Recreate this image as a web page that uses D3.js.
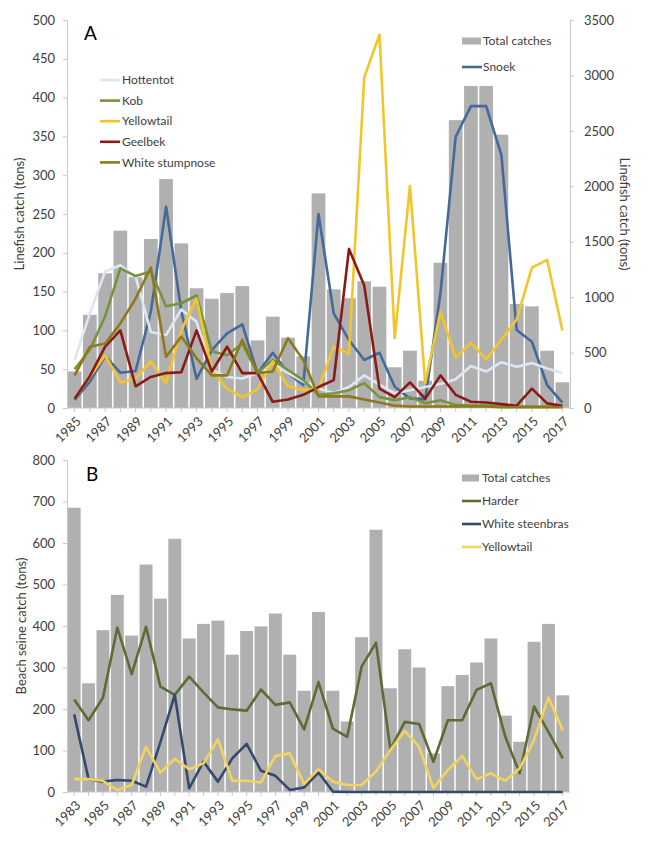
<!DOCTYPE html>
<html>
<head>
<meta charset="utf-8">
<script src="https://cdn.jsdelivr.net/npm/d3@7"></script>
<style>
  body { margin: 0; background: #fff; }
  text { font-family: Lato, "Open Sans", sans-serif; fill: #404040; }
</style>
</head>
<body>
<svg id="chart" width="648" height="850"></svg>
<script>
// Panel A - linefish (1985-2017)
var yearsA = [1985, 1986, 1987, 1988, 1989, 1990, 1991, 1992, 1993, 1994, 1995, 1996, 1997, 1998, 1999, 2000,
              2001, 2002, 2003, 2004, 2005, 2006, 2007, 2008, 2009, 2010, 2011, 2012, 2013, 2014, 2015, 2016, 2017];
// right axis
var totalA = [330, 840, 1215, 1600, 1180, 1525, 2065, 1485, 1080, 985, 1037, 1100, 610, 824, 634, 466,
              1936, 1070, 990, 1143, 1094, 367, 517, 246, 1310, 2597, 2905, 2905, 2466, 938, 917, 517, 232];
var snoek = [72, 237, 469, 318, 334, 868, 1815, 875, 262, 523, 673, 754, 313, 498, 313, 207,
             1750, 854, 613, 433, 498, 192, 87, 78, 1035, 2447, 2723, 2723, 2282, 704, 598, 207, 48];
// left axis
var hottentot = [62, 122, 176, 184, 169, 98, 94, 127, 111, 49, 40, 38, 45, 58, 45, 34,
                 25, 19, 27, 42, 30, 19, 23, 27, 31, 37, 54, 47, 59, 53, 58, 51, 45];
var kob = [50, 75, 118, 180, 170, 176, 131, 135, 145, 73, 68, 83, 45, 62, 49, 36,
           17, 19, 23, 32, 14, 10, 14, 6, 10, 4, 3, 3, 2, 2, 2, 2, 2];
var yellowtailA = [12, 40, 68, 33, 38, 60, 32, 100, 141, 49, 25, 14, 24, 60, 28, 23,
                   25, 79, 70, 426, 481, 90, 286, 32, 124, 65, 84, 63, 88, 114, 181, 191, 100];
var geelbek = [12, 41, 79, 100, 28, 40, 45, 46, 100, 47, 79, 45, 45, 8, 11, 17,
               27, 36, 205, 158, 25, 14, 33, 12, 42, 17, 8, 7, 5, 3, 25, 6, 3];
var stumpnose = [42, 79, 83, 109, 141, 181, 66, 92, 64, 42, 42, 88, 45, 47, 90, 62,
                 15, 15, 15, 11, 7, 3, 2, 2, 2, 2, 2, 2, 1, 1, 1, 1, 1];

// Panel B - beach seine (1983-2017)
var yearsB = [1983, 1984, 1985, 1986, 1987, 1988, 1989, 1990, 1991, 1992, 1993, 1994, 1995, 1996, 1997, 1998,
              1999, 2000, 2001, 2002, 2003, 2004, 2005, 2006, 2007, 2008, 2009, 2010, 2011, 2012, 2013, 2014,
              2015, 2016, 2017];
var totalB = [685, 262, 390, 475, 377, 548, 466, 610, 370, 405, 413, 331, 388, 399, 430, 331,
              244, 434, 244, 170, 373, 632, 250, 344, 300, 93, 255, 282, 312, 370, 184, 121,
              362, 405, 233];
var harder = [223, 173, 227, 396, 284, 398, 254, 234, 278, 240, 204, 199, 196, 247, 210, 216,
              151, 265, 153, 133, 302, 360, 103, 169, 164, 73, 173, 173, 246, 262, 133, 45,
              206, 145, 81];
var steenbras = [187, 31, 25, 29, 27, 13, 120, 234, 9, 73, 25, 81, 116, 51, 39, 5,
                 11, 47, 1, 0, 0, 0, 0, 0, 0, 0, 0, 0, 0, 0, 0, 0,
                 0, 0, 0];
var yellowtailB = [31, 31, 27, 5, 17, 109, 47, 80, 55, 69, 127, 27, 27, 23, 87, 93,
                   19, 55, 25, 17, 17, 49, 101, 147, 109, 9, 53, 87, 31, 45, 27, 57,
                   125, 228, 148];

var ticksLeftA = [0, 50, 100, 150, 200, 250, 300, 350, 400, 450, 500];
var ticksRightA = [0, 500, 1000, 1500, 2000, 2500, 3000, 3500];
var ticksLeftB = [0, 100, 200, 300, 400, 500, 600, 700, 800];

var barColor = "#b0b0b0",
    axisColor = "#c8c8c8";

var svg = d3.select("#chart");

// Panel A
var plotA = { left: 67, right: 570, top: 20, bottom: 408 };

var xA = d3.scaleBand()
    .domain(yearsA)
    .range([plotA.left, plotA.right])
    .paddingInner(0.1)
    .paddingOuter(0.05);

var yLeftA = d3.scaleLinear().domain([0, 500]).range([plotA.bottom, plotA.top]);
var yRightA = d3.scaleLinear().domain([0, 3500]).range([plotA.bottom, plotA.top]);

var gA = svg.append("g");

gA.selectAll("rect.bar")
  .data(totalA)
  .enter().append("rect")
    .attr("class", "bar")
    .attr("x", function(d, i) { return xA(yearsA[i]); })
    .attr("width", xA.bandwidth())
    .attr("y", function(d) { return yRightA(d); })
    .attr("height", function(d) { return plotA.bottom - yRightA(d); })
    .style("fill", barColor);

function drawAxes(g, plot, x, years, yLeft, ticksLeft, yRight, ticksRight) {
  var left = g.append("g")
      .attr("transform", "translate(" + plot.left + ",0)")
      .call(d3.axisLeft(yLeft).tickValues(ticksLeft).tickFormat(d3.format("d")).tickSize(4).tickPadding(8));
  left.select(".domain").style("stroke", axisColor);
  left.selectAll(".tick line").style("stroke", axisColor);
  left.selectAll(".tick text").style("font-size", "13px").style("fill", "#404040")
      .style("font-family", "Lato, sans-serif");

  if (yRight) {
    var right = g.append("g")
        .attr("transform", "translate(" + plot.right + ",0)")
        .call(d3.axisRight(yRight).tickValues(ticksRight).tickFormat(d3.format("d")).tickSize(4).tickPadding(10));
    right.select(".domain").style("stroke", axisColor);
    right.selectAll(".tick line").style("stroke", axisColor);
    right.selectAll(".tick text").style("font-size", "13px").style("fill", "#404040")
        .style("font-family", "Lato, sans-serif");
  }

  // category axis
  g.append("line")
      .attr("x1", plot.left).attr("x2", plot.right)
      .attr("y1", plot.bottom).attr("y2", plot.bottom)
      .style("stroke", axisColor);

  g.selectAll("line.xtick")
    .data(years)
    .enter().append("line")
      .attr("class", "xtick")
      .attr("x1", function(d) { return x(d) + x.bandwidth() / 2; })
      .attr("x2", function(d) { return x(d) + x.bandwidth() / 2; })
      .attr("y1", plot.bottom)
      .attr("y2", plot.bottom + 4)
      .style("stroke", axisColor);

  g.selectAll("text.xlabel")
    .data(years.filter(function(d, i) { return i % 2 === 0; }))
    .enter().append("text")
      .attr("class", "xlabel")
      .attr("transform", function(d) {
        return "translate(" + (x(d) + x.bandwidth() / 2 + 4) + "," + (plot.bottom + 11) + ") rotate(-45)";
      })
      .attr("text-anchor", "end")
      .attr("dy", "0.35em")
      .style("font-size", "13px")
      .text(function(d) { return d; });
}

drawAxes(gA, plotA, xA, yearsA, yLeftA, ticksLeftA, yRightA, ticksRightA);

function drawLine(g, x, years, y, values, color, width) {
  var line = d3.line()
      .x(function(d, i) { return x(years[i]) + x.bandwidth() / 2; })
      .y(function(d) { return y(d); });
  g.append("path")
      .datum(values)
      .attr("d", line)
      .style("fill", "none")
      .style("stroke", color)
      .style("stroke-width", width || 2.6)
      .style("stroke-linejoin", "round");
}

var seriesA = [
  { name: "Hottentot", values: hottentot, color: "#dde7f3", axis: "left" },
  { name: "Kob", values: kob, color: "#77933c", axis: "left" },
  { name: "Yellowtail", values: yellowtailA, color: "#f3c52a", axis: "left" },
  { name: "Geelbek", values: geelbek, color: "#8b1a14", axis: "left" },
  { name: "White stumpnose", values: stumpnose, color: "#8c7a1b", axis: "left" },
  { name: "Snoek", values: snoek, color: "#44699a", axis: "right" }
];

// draw order: snoek first so the others sit on top where they cross
drawLine(gA, xA, yearsA, yRightA, snoek, "#44699a");
seriesA.slice(0, 5).forEach(function(s) {
  drawLine(gA, xA, yearsA, yLeftA, s.values, s.color);
});

gA.append("text")
    .attr("x", 84).attr("y", 40)
    .style("font-size", "19px")
    .style("fill", "#000")
    .text("A");

gA.append("text")
    .attr("transform", "translate(24," + ((plotA.top + plotA.bottom) / 2) + ") rotate(-90)")
    .attr("text-anchor", "middle")
    .style("font-size", "13px")
    .text("Linefish catch (tons)");

gA.append("text")
    .attr("transform", "translate(620," + ((plotA.top + plotA.bottom) / 2) + ") rotate(90)")
    .attr("text-anchor", "middle")
    .style("font-size", "13px")
    .text("Linefish catch (tons)");

// left legend
var legA = gA.append("g").attr("transform", "translate(100,80)");
seriesA.slice(0, 5).forEach(function(s, i) {
  var yy = i * 20.6;
  legA.append("line")
      .attr("x1", 0).attr("x2", 20).attr("y1", yy).attr("y2", yy)
      .style("stroke", s.color).style("stroke-width", 2.6);
  legA.append("text")
      .attr("x", 22).attr("y", yy).attr("dy", "0.35em")
      .style("font-size", "12px")
      .text(s.name);
});

// right legend
var legA2 = gA.append("g").attr("transform", "translate(462,41)");
legA2.append("rect")
    .attr("x", 0).attr("y", -3.5).attr("width", 19).attr("height", 7)
    .style("fill", barColor);
legA2.append("text")
    .attr("x", 21).attr("y", 0).attr("dy", "0.35em")
    .style("font-size", "12px")
    .text("Total catches");
legA2.append("line")
    .attr("x1", 0).attr("x2", 20).attr("y1", 26).attr("y2", 26)
    .style("stroke", "#44699a").style("stroke-width", 2.6);
legA2.append("text")
    .attr("x", 21).attr("y", 26).attr("dy", "0.35em")
    .style("font-size", "12px")
    .text("Snoek");

// Panel B
var plotB = { left: 67, right: 570, top: 460, bottom: 792 };

var xB = d3.scaleBand()
    .domain(yearsB)
    .range([plotB.left, plotB.right])
    .paddingInner(0.1)
    .paddingOuter(0.05);

var yB = d3.scaleLinear().domain([0, 800]).range([plotB.bottom, plotB.top]);

var gB = svg.append("g");

gB.selectAll("rect.bar")
  .data(totalB)
  .enter().append("rect")
    .attr("class", "bar")
    .attr("x", function(d, i) { return xB(yearsB[i]); })
    .attr("width", xB.bandwidth())
    .attr("y", function(d) { return yB(d); })
    .attr("height", function(d) { return plotB.bottom - yB(d); })
    .style("fill", barColor);

drawAxes(gB, plotB, xB, yearsB, yB, ticksLeftB, null, null);

var seriesB = [
  { name: "Harder", values: harder, color: "#5d6c35" },
  { name: "White steenbras", values: steenbras, color: "#34496c" },
  { name: "Yellowtail", values: yellowtailB, color: "#f1d35e" }
];

seriesB.forEach(function(s) {
  drawLine(gB, xB, yearsB, yB, s.values, s.color);
});

gB.append("text")
    .attr("x", 86).attr("y", 481)
    .style("font-size", "19px")
    .style("fill", "#000")
    .text("B");

gB.append("text")
    .attr("transform", "translate(26," + ((plotB.top + plotB.bottom) / 2) + ") rotate(-90)")
    .attr("text-anchor", "middle")
    .style("font-size", "13px")
    .text("Beach seine catch (tons)");

var legB = gB.append("g").attr("transform", "translate(462,478)");
legB.append("rect")
    .attr("x", 0).attr("y", -3.5).attr("width", 17).attr("height", 7)
    .style("fill", barColor);
legB.append("text")
    .attr("x", 20).attr("y", 0).attr("dy", "0.35em")
    .style("font-size", "12px")
    .text("Total catches");
seriesB.forEach(function(s, i) {
  var yy = 23 * (i + 1);
  legB.append("line")
      .attr("x1", 0).attr("x2", 19).attr("y1", yy).attr("y2", yy)
      .style("stroke", s.color).style("stroke-width", 2.6);
  legB.append("text")
      .attr("x", 20).attr("y", yy).attr("dy", "0.35em")
      .style("font-size", "12px")
      .text(s.name);
});
</script>
</body>
</html>
